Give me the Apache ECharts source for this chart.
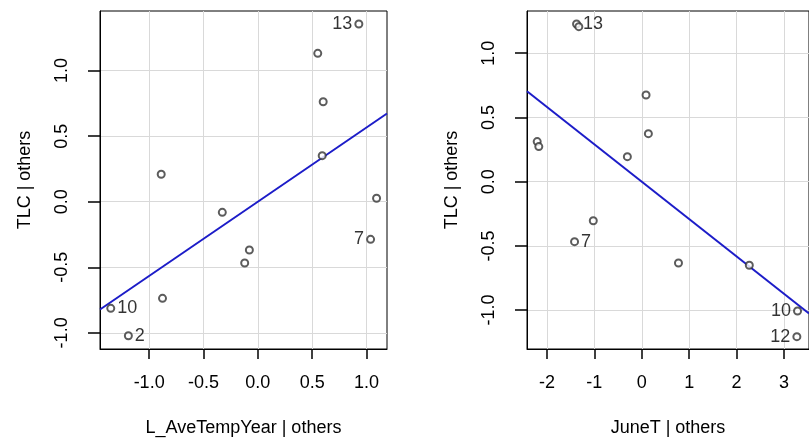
<!DOCTYPE html>
<html>
<head>
<meta charset="utf-8">
<script src="https://cdn.jsdelivr.net/npm/echarts@6.0.0/dist/echarts.min.js"></script>
<style>
  html, body { margin: 0; padding: 0; background: #fff; }
  #chart { width: 809px; height: 442px; }
</style>
</head>
<body>
<div id="chart"></div>
<script>
// 左图：L_AveTempYear | others
var tempX = [0.929, 0.551, 0.601, 0.592, -0.889, 1.092, -0.327, 1.037, -0.078, -0.121, -0.877, -1.353, -1.191];
var tempY = [1.355, 1.131, 0.762, 0.351, 0.209, 0.026, -0.081, -0.287, -0.368, -0.467, -0.737, -0.813, -1.022];
var tempIds = ['13', '', '', '', '', '', '', '7', '', '', '', '10', '2'];
var tempSlope = 0.566;
var tempXTicks = [-1, -0.5, 0, 0.5, 1];
var tempYTicks = [-1, -0.5, 0, 0.5, 1];

// 右图：JuneT | others
var juneX = [-1.376, -1.328, -2.206, -2.172, 0.090, 0.139, -0.304, -1.023, -1.418, 0.774, 2.268, 3.285, 3.271];
var juneY = [1.228, 1.207, 0.312, 0.273, 0.675, 0.374, 0.195, -0.304, -0.467, -0.633, -0.651, -1.007, -1.207];
var juneIds = ['13', '', '', '', '', '', '', '', '7', '', '', '10', '12'];
var juneSlope = -0.291;
var juneXTicks = [-2, -1, 0, 1, 2, 3];
var juneYTicks = [-1, -0.5, 0, 0.5, 1];

(function () {
    var font = 'Liberation Sans, Arial, sans-serif';
    var ranges = [
        { x: [-1.452, 1.188], y: [-1.123, 1.454] },
        { x: [-2.421, 3.527], y: [-1.303, 1.329] }
    ];

    // 点 + 标签（car::avPlots 规则：右半边标在左侧，左半边标在右侧）
    function points(xs, ys, ids) {
        var mid = (Math.min.apply(null, xs) + Math.max.apply(null, xs)) / 2;
        return xs.map(function (x, i) {
            return {
                value: [x, ys[i]],
                label: {
                    show: ids[i] !== '',
                    formatter: ids[i],
                    position: x > mid ? 'left' : 'right'
                }
            };
        });
    }

    function xAxis(idx, ticks, range, name, digits) {
        return {
            type: 'value', gridIndex: idx, min: range[0], max: range[1],
            name: name, nameLocation: 'middle', nameGap: 70,
            nameTextStyle: { color: '#000', fontSize: 18, fontFamily: font },
            axisLine: { show: true, onZero: false, lineStyle: { color: '#000', width: 1 } },
            axisTick: { show: true, length: 10, customValues: ticks, lineStyle: { color: '#000', width: 1.5 } },
            axisLabel: {
                customValues: ticks, margin: 25, color: '#000', fontSize: 18, fontFamily: font,
                formatter: function (v) { return v.toFixed(digits); }
            },
            splitLine: { show: true, lineStyle: { color: '#d9d9d9', width: 1 } }
        };
    }

    function yAxis(idx, ticks, range) {
        return {
            type: 'value', gridIndex: idx, min: range[0], max: range[1],
            name: 'TLC | others', nameLocation: 'middle', nameGap: 66,
            nameTextStyle: { color: '#000', fontSize: 18, fontFamily: font },
            axisLine: { show: true, onZero: false, lineStyle: { color: '#000', width: 1 } },
            axisTick: { show: true, length: 12, customValues: ticks, lineStyle: { color: '#000', width: 1.5 } },
            axisLabel: {
                customValues: ticks, margin: 29, rotate: 90, color: '#000', fontSize: 18, fontFamily: font,
                formatter: function (v) { return v.toFixed(1); }
            },
            splitLine: { show: true, lineStyle: { color: '#d9d9d9', width: 1 } }
        };
    }

    function scatter(idx, xs, ys, ids) {
        return {
            type: 'scatter', xAxisIndex: idx, yAxisIndex: idx,
            symbol: 'emptyCircle', symbolSize: 7,
            itemStyle: { color: '#333', borderColor: '#333', borderWidth: 1 },
            label: { color: '#000', fontSize: 18, fontFamily: font, distance: 2 },
            data: points(xs, ys, ids),
            z: 3
        };
    }

    function fit(idx, slope, range) {
        return {
            type: 'line', xAxisIndex: idx, yAxisIndex: idx,
            symbol: 'none',
            lineStyle: { color: '#1c1cc8', width: 2 },
            data: [[range[0], slope * range[0]], [range[1], slope * range[1]]],
            z: 2
        };
    }

    var option = {
        animation: false,
        grid: [
            { left: 100, top: 11, width: 287, height: 338, show: true, borderColor: '#000', borderWidth: 1 },
            { left: 527, top: 11, width: 287, height: 338, show: true, borderColor: '#000', borderWidth: 1 }
        ],
        xAxis: [
            xAxis(0, tempXTicks, ranges[0].x, 'L_AveTempYear | others', 1),
            xAxis(1, juneXTicks, ranges[1].x, 'JuneT | others', 0)
        ],
        yAxis: [
            yAxis(0, tempYTicks, ranges[0].y),
            yAxis(1, juneYTicks, ranges[1].y)
        ],
        series: [
            fit(0, tempSlope, ranges[0].x),
            scatter(0, tempX, tempY, tempIds),
            fit(1, juneSlope, ranges[1].x),
            scatter(1, juneX, juneY, juneIds)
        ]
    };

    var myChart = echarts.init(document.getElementById('chart'));
    myChart.setOption(option);
})();
</script>
</body>
</html>
